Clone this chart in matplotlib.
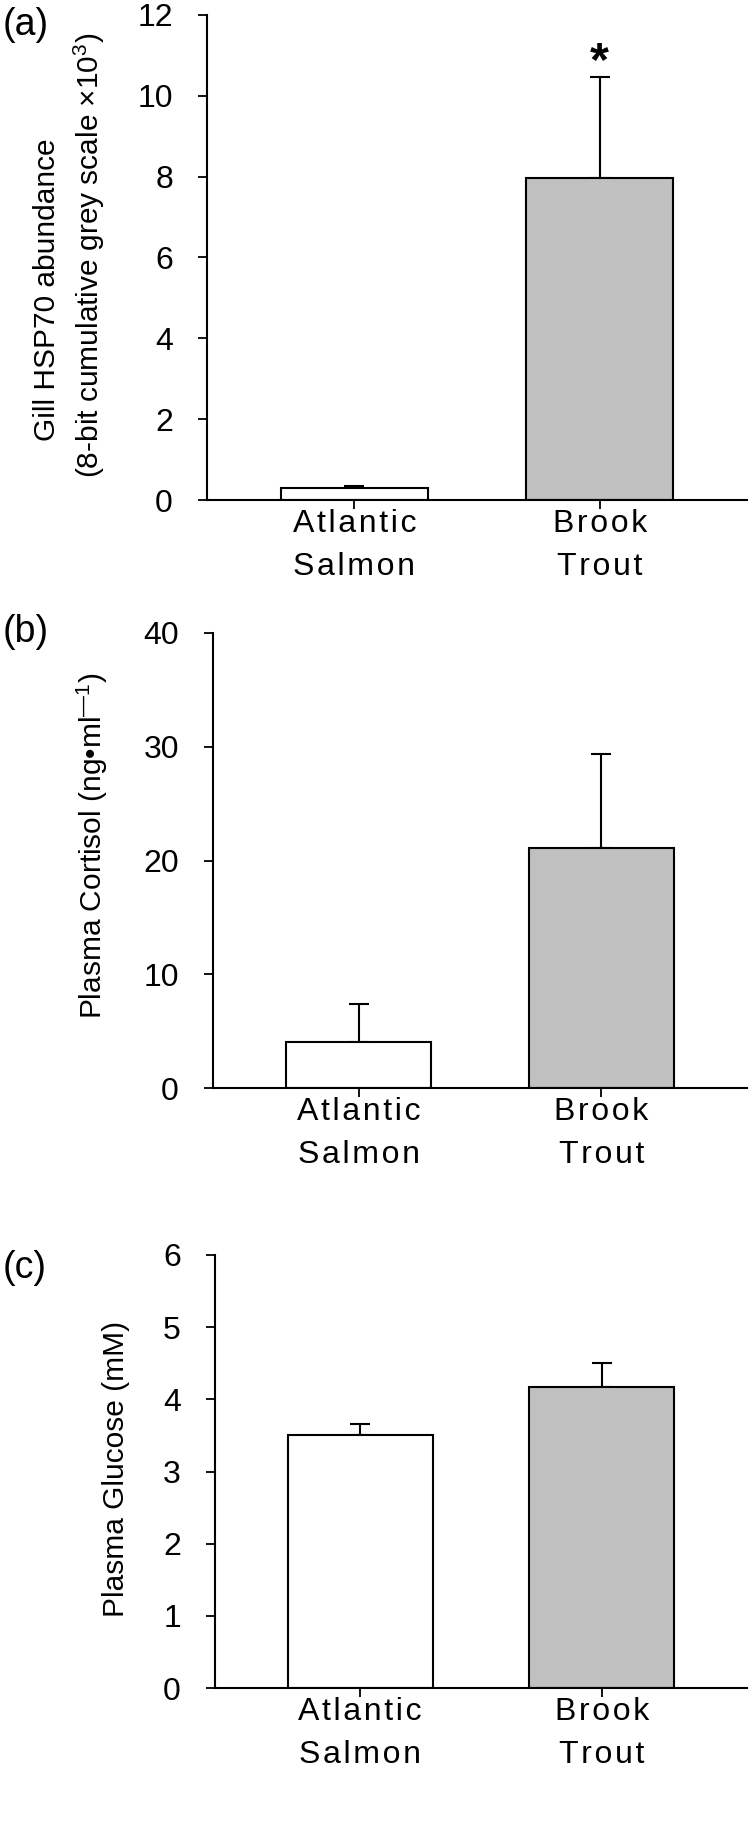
import matplotlib
matplotlib.use("Agg")
import matplotlib.pyplot as plt

# values (mean, upper SE)
species = ["Atlantic\nSalmon", "Brook\nTrout"]
hsp70 = [0.30, 7.97]
hsp70_err = [0.05, 2.50]
cortisol = [4.05, 21.1]
cortisol_err = [3.3, 8.3]
glucose = [3.51, 4.17]
glucose_err = [0.15, 0.33]
bar_colors = ["white", "#c0c0c0"]

plt.rcParams["font.family"] = ["Liberation Sans", "DejaVu Sans"]
plt.rcParams["mathtext.fontset"] = "custom"
plt.rcParams["mathtext.rm"] = "Liberation Sans"
plt.rcParams["mathtext.it"] = "Liberation Sans"

W, H = 750, 1826
fig = plt.figure(figsize=(W / 100, H / 100), dpi=100)


def px_axes(left, top, right, bottom):
    return fig.add_axes([left / W, 1 - bottom / H, (right - left) / W, (bottom - top) / H])


def spaced(label):
    # the original uses wide letter tracking on the category labels
    return "\n".join("\u200a".join(line) for line in label.split("\n"))


def bar_panel(ax, values, errs, ymax, ystep):
    x = list(range(len(values)))
    ax.bar(x, values, width=0.6, color=bar_colors, edgecolor="black", linewidth=1.5,
           zorder=2)
    ax.errorbar(x, values, yerr=[[0] * len(errs), errs], fmt="none", ecolor="black",
                elinewidth=1.5, capsize=7.5, capthick=1.5, zorder=1)
    ax.set_xlim(-0.6, 1.6)
    ax.set_ylim(0, ymax)
    ax.set_yticks([i * ystep for i in range(int(round(ymax / ystep)) + 1)])
    ax.set_xticks(x)
    ax.set_xticklabels([spaced(s) for s in species], fontsize=23, linespacing=1.55)
    for side in ["top", "right"]:
        ax.spines[side].set_visible(False)
    for side in ["left", "bottom"]:
        ax.spines[side].set_linewidth(1.5)
    ax.tick_params(axis="y", direction="out", length=6.5, width=1.3, pad=18, labelsize=23)
    ax.tick_params(axis="x", direction="out", length=6.5, width=1.3, pad=0)


def ylab(xpix, ypix, text):
    fig.text(xpix / W, 1 - ypix / H, text, rotation=90, ha="center", va="center",
             fontsize=21.5)


# (a) gill HSP70
ax1 = px_axes(207, 15, 747, 500)
bar_panel(ax1, hsp70, hsp70_err, 12, 2)
ax1.text(1, hsp70[1] + hsp70_err[1] + 0.35, "*", ha="center", va="center",
         fontsize=35, fontweight="bold")
ylab(47, 290, "Gill HSP70 abundance")
ylab(89, 255, "(8-bit cumulative grey scale \u00d710$^3$)")

# (b) plasma cortisol
ax2 = px_axes(213, 633, 747, 1088)
bar_panel(ax2, cortisol, cortisol_err, 40, 10)
ylab(92, 846, "Plasma Cortisol (ng\u2022ml$^{\u2014 1}$)")

# (c) plasma glucose
ax3 = px_axes(215, 1255, 747, 1688)
bar_panel(ax3, glucose, glucose_err, 6, 1)
ylab(116, 1469, "Plasma Glucose (mM)")

for lab, ybase in [("(a)", 35), ("(b)", 642), ("(c)", 1278)]:
    fig.text(3 / W, 1 - ybase / H, lab, ha="left", va="baseline", fontsize=27)

fig.savefig("out.png", dpi=100)
